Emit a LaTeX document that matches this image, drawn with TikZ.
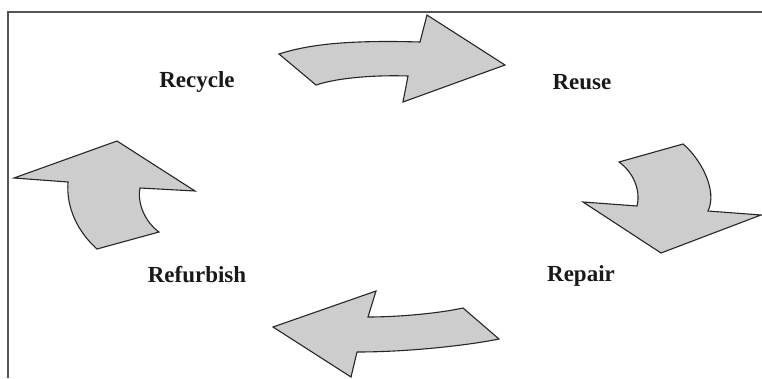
\documentclass[tikz,border=0pt]{standalone}
\usepackage{fontspec}
\setmainfont{Liberation Serif}
\usepackage{tikz}
\usetikzlibrary{arrows.meta,positioning,calc}
\definecolor{arrowfill}{RGB}{205,205,205}
\definecolor{framegray}{RGB}{85,85,85}
\tikzset{
    blockarrow/.style={draw=black!85, fill=arrowfill, line width=1.1pt, line join=miter},
    stage/.style={font=\fontsize{23}{27}\selectfont\bfseries, text=black!90, inner sep=0pt},
    frameline/.style={draw=framegray, line width=1.8pt}
}

\begin{document}
\begin{tikzpicture}[x=1pt, y=-1pt]
                    \useasboundingbox (0,0) rectangle (762,378);
                    \draw[frameline] (8,378) -- (8,12) -- (762,12);

                    \node[stage] (recycle) at (197,82) {Recycle};
                    \node[stage] (reuse) at (582,82) {Reuse};
                    \node[stage] (repair) at (581,276) {Repair};
                    \node[stage] (refurbish) at (197,275) {Refurbish};

                    \draw[blockarrow] (279,54) .. controls (310,44) and (350,40) .. (420,42)
                        -- (427,15) -- (505,65) -- (403,102) -- (408,76)
                        .. controls (380,75) and (340,77) .. (316,85) -- cycle;
                    \draw[blockarrow] (619,162) -- (683,144) .. controls (700,158) and (718,190) .. (708,211)
                        -- (761,215) -- (661,253) -- (583,202) -- (637,206)
                        .. controls (641,190) and (633,172) .. (619,162) -- cycle;
                    \draw[blockarrow] (273,327) -- (376,291) -- (368,317)
                        .. controls (395,317) and (435,314) .. (463,308) -- (499,339)
                        .. controls (470,345) and (410,352) .. (357,352) -- (351,377) -- cycle;
                    \draw[blockarrow] (14,178) -- (117,141) -- (195,191) -- (140,188)
                        .. controls (137,203) and (145,222) .. (159,232) -- (97,249)
                        .. controls (78,232) and (66,208) .. (68,182) -- cycle;
                \end{tikzpicture}
\end{document}
